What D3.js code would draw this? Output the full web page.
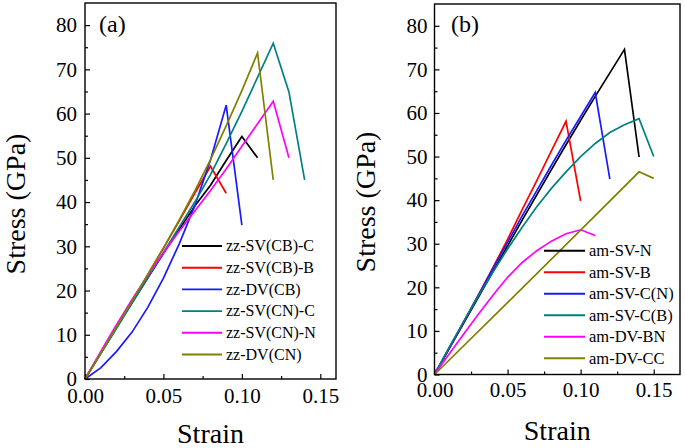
<!DOCTYPE html>
<html><head><meta charset="utf-8">
<script src="https://cdn.jsdelivr.net/npm/d3@7"></script>
<style>
body{margin:0;background:#fff;}
</style></head>
<body><svg id="c" width="685" height="448"></svg>
<script>
// ---- data ----
const strainGrid = [0,0.01,0.02,0.03,0.04,0.05,0.06,0.07,0.08,0.09,0.10,0.11,0.12,0.13,0.14,0.15];
const xTicks = [0,0.05,0.10,0.15];
const yTicks = [0,10,20,30,40,50,60,70,80];

// panel (a)
const labelsA = ["zz-SV(CB)-C","zz-SV(CB)-B","zz-DV(CB)","zz-SV(CN)-C","zz-SV(CN)-N","zz-DV(CN)"];
const colorsA = ["#000000","#ff0000","#1a1aff","#008080","#ff00ff","#808000"];
const zzSVCB_C = [0,5.8,11.5,17.2,22.8,28.4,33.8,39.1,43.8,49.4,54.8,50.0];
const zzSVCB_B = [0,5.8,11.7,17.6,23.6,29.6,35.7,42.0,48.1,42.0];
const zzDVCB   = [0,2.5,6.2,10.6,16.2,22.8,30.5,39.2,49.5,61.9,34.8];
const zzSVCN_C = [0,5.7,11.4,17.2,22.9,28.6,34.3,40.0,46.2,53.2,60.5,68.2,75.9,64.9,45.0];
const zzSVCN_N = [0,6.2,12.2,18.0,23.4,28.5,33.4,38.0,42.6,47.5,52.6,57.7,62.8,50.0];
const zzDVCN   = [0,5.8,11.7,17.6,23.6,29.6,35.9,42.5,49.6,57.2,65.2,73.7,45.0];

// panel (b)
const labelsB = ["am-SV-N","am-SV-B","am-SV-C(N)","am-SV-C(B)","am-DV-BN","am-DV-CC"];
const colorsB = ["#000000","#ff0000","#1a1aff","#008080","#ff00ff","#808000"];
const amSVN   = [0,5.9,11.8,17.7,23.6,29.5,35.4,41.2,47.0,52.7,58.3,63.8,69.2,74.6,49.9];
const amSVB   = [0,6.0,12.0,18.2,24.5,31.0,37.8,44.5,51.3,58.1,39.8];
const amSVCN  = [0,6.0,12.1,18.2,24.3,30.3,36.4,42.2,48.0,53.7,59.2,64.7,44.8];
const amSVCB  = [0,6.2,12.2,18.0,23.5,28.8,33.8,38.5,42.7,46.5,50.0,53.0,55.5,57.3,58.7,50.0];
const amDVBN  = [0,4.7,9.3,13.8,18.2,22.3,25.7,28.4,30.6,32.3,33.2,31.9];
const amDVCC_strain = [0,0.05,0.10,0.14,0.15];
const amDVCC  = [0,16.5,33.1,46.5,45.0];

function pts(ys, xs){ xs = xs || strainGrid; return ys.map((v,i)=>[xs[i],v]); }

const seriesA = [zzSVCB_C,zzSVCB_B,zzDVCB,zzSVCN_C,zzSVCN_N,zzDVCN].map(a=>pts(a));
const seriesB = [pts(amSVN),pts(amSVB),pts(amSVCN),pts(amSVCB),pts(amDVBN),pts(amDVCC,amDVCC_strain)];

const FONT = "'Liberation Serif', 'Tinos', 'DejaVu Serif', 'Times New Roman', serif";
const svg = d3.select("#c");

function panel(cfg){
  const x = d3.scaleLinear().domain([0,cfg.xmax]).range([cfg.left,cfg.right]);
  const y = d3.scaleLinear().domain([0,85]).range([cfg.bottom,cfg.top]);
  const g = svg.append("g").style("font-family",FONT);

  // minor ticks
  g.append("g").attr("transform",`translate(0,${cfg.bottom})`)
    .call(d3.axisBottom(x).tickValues([0.025,0.075,0.125]).tickSize(-3).tickFormat(""))
    .call(s=>s.select(".domain").remove())
    .call(s=>s.selectAll("line").attr("stroke","#000").attr("stroke-width",1.2));
  g.append("g").attr("transform",`translate(${cfg.left},0)`)
    .call(d3.axisLeft(y).tickValues([5,15,25,35,45,55,65,75]).tickSize(-3).tickFormat(""))
    .call(s=>s.select(".domain").remove())
    .call(s=>s.selectAll("line").attr("stroke","#000").attr("stroke-width",1.2));

  // major x
  g.append("g").attr("transform",`translate(0,${cfg.bottom})`)
    .call(d3.axisBottom(x).tickValues(xTicks).tickSize(-5).tickFormat(d3.format(".2f")))
    .call(s=>s.select(".domain").remove())
    .call(s=>s.selectAll("line").attr("stroke","#000").attr("stroke-width",1.2))
    .call(s=>s.selectAll("text").attr("y",cfg.xlabOff).attr("dy",0)
      .style("font-family",FONT).style("font-size","21px").attr("fill","#000"));
  // major y
  g.append("g").attr("transform",`translate(${cfg.left},0)`)
    .call(d3.axisLeft(y).tickValues(yTicks).tickSize(-5).tickPadding(cfg.ypad))
    .call(s=>s.select(".domain").remove())
    .call(s=>s.selectAll("line").attr("stroke","#000").attr("stroke-width",1.2))
    .call(s=>s.selectAll("text").style("font-family",FONT).style("font-size","21px").attr("fill","#000"));

  // data lines
  const line = d3.line().x(d=>x(d[0])).y(d=>y(d[1]));
  cfg.series.forEach((s,i)=>{
    g.append("path").attr("d",line(s)).attr("fill","none")
      .attr("stroke",cfg.colors[i]).attr("stroke-width",1.7).attr("stroke-linejoin","miter");
  });

  // frame
  g.append("rect").attr("x",cfg.left).attr("y",cfg.top)
    .attr("width",cfg.right-cfg.left).attr("height",cfg.bottom-cfg.top)
    .attr("fill","none").attr("stroke","#000").attr("stroke-width",1.4);

  // legend
  cfg.labels.forEach((lab,i)=>{
    const yy = cfg.legY + i*cfg.legDy;
    g.append("line").attr("x1",cfg.legX).attr("x2",cfg.legX+cfg.legLen)
      .attr("y1",yy).attr("y2",yy).attr("stroke",cfg.colors[i]).attr("stroke-width",1.9);
    g.append("text").attr("x",cfg.legX+cfg.legLen+4).attr("y",yy).attr("dy","0.33em")
      .style("font-family",FONT).style("font-size",cfg.legFont+"px").text(lab);
  });

  // titles
  g.append("text").attr("x",(cfg.left+cfg.right)/2).attr("y",cfg.xtitleY)
    .attr("text-anchor","middle").style("font-family",FONT).style("font-size","28px").text("Strain");
  g.append("text").attr("transform",`translate(${cfg.ytitleX},${cfg.ytitleY}) rotate(-90)`)
    .attr("text-anchor","middle").style("font-family",FONT).style("font-size","28px").text("Stress (GPa)");
  g.append("text").attr("x",cfg.tagX).attr("y",cfg.tagY)
    .style("font-family",FONT).style("font-size","24px").text(cfg.tag);
}

panel({left:85,right:336,top:3,bottom:379,xmax:0.16,series:seriesA,colors:colorsA,labels:labelsA,
  xlabOff:24,ypad:8,legX:182,legLen:40,legY:246,legDy:21.7,legFont:16,
  xtitleY:443,ytitleX:25,ytitleY:204,tag:"(a)",tagX:99,tagY:32});
panel({left:434.5,right:680,top:4,bottom:374.5,xmax:0.168,series:seriesB,colors:colorsB,labels:labelsB,
  xlabOff:22.5,ypad:7,legX:544,legLen:41,legY:250.7,legDy:21.5,legFont:16.5,
  xtitleY:440,ytitleX:375,ytitleY:202,tag:"(b)",tagX:451,tagY:32});
</script></body></html>
